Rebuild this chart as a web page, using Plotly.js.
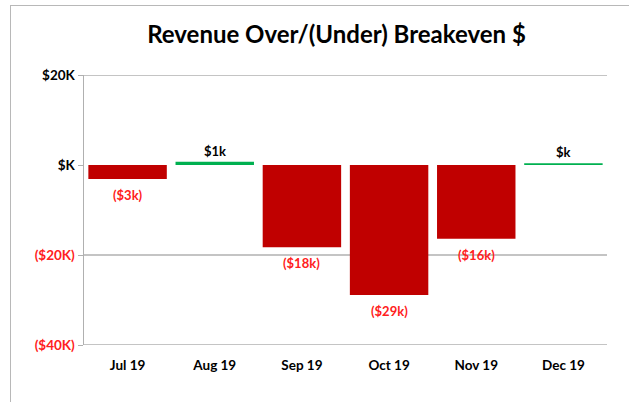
<!DOCTYPE html>
<html>
<head>
<meta charset="utf-8">
<script src="https://cdn.plot.ly/plotly-3.0.1.min.js"></script>
<style>
  html, body { margin: 0; padding: 0; background: #fff; }
  #wrap { position: relative; width: 629px; height: 402px; overflow: hidden; }
  #frame { position: absolute; left: 10px; top: 5px; width: 700px; height: 500px; border: 1.5px solid #b8b8b8; box-sizing: border-box; }
  #chart { position: absolute; left: 0; top: 0; width: 629px; height: 402px; }
</style>
</head>
<body>
<div id="wrap">
  <div id="frame"></div>
  <div id="chart"></div>
</div>
<script>
const months = ["Jul 19", "Aug 19", "Sep 19", "Oct 19", "Nov 19", "Dec 19"];
const valuesK = [-3.1, 0.7, -18.3, -28.9, -16.4, 0.4];
const yTickVals = [20, 0, -20, -40];
const yTickText = ["$20K", "$K", "<span style='color:#ff2020'>($20K)</span>", "<span style='color:#ff2020'>($40K)</span>"];

const RED = "#C00000", GREEN = "#00B050";
function fmt(v) {
  const n = Math.round(Math.abs(v));
  const s = "$" + (n === 0 ? "" : n) + "k";
  return v < 0 ? "(" + s + ")" : s;
}
const FONT = "Lato, 'Open Sans', sans-serif";

const trace = {
  type: "bar",
  x: months,
  y: valuesK,
  marker: { color: valuesK.map(v => v < 0 ? RED : GREEN) },
  hoverinfo: "none"
};

const labels = months.map((m, i) => {
  const v = valuesK[i];
  return {
    x: m, y: v, xref: "x", yref: "y",
    text: "<b>" + fmt(v) + "</b>",
    showarrow: false,
    yanchor: v < 0 ? "top" : "bottom",
    yshift: v < 0 ? -6 : 1,
    font: { family: FONT, size: 13, weight: 700, color: v < 0 ? "#ff2020" : "#000" }
  };
});

// gridlines at every y tick (Plotly hides the ones on the plot edges)
const grid = yTickVals.filter(v => v !== 0).map(v => ({
  type: "line", xref: "paper", yref: "y", x0: 0, x1: 1, y0: v, y1: v,
  line: { color: "#b0b0b0", width: 1.5 }, layer: "below"
}));

const layout = {
  width: 629, height: 402,
  paper_bgcolor: "rgba(0,0,0,0)",
  plot_bgcolor: "rgba(0,0,0,0)",
  margin: { l: 84, r: 22, t: 75, b: 57 },
  bargap: 0.1,
  showlegend: false,
  title: { text: "<b>Revenue Over/(Under) Breakeven $</b>", x: 0.535, xanchor: "center", y: 0.915, yanchor: "middle",
           font: { family: FONT, size: 24, color: "#000" } },
  annotations: labels,
  shapes: grid,
  xaxis: {
    type: "category",
    showline: false, showgrid: false, zeroline: false, ticks: "",
    tickfont: { family: FONT, size: 13.5, weight: 700, color: "#000" },
    ticklabelstandoff: 10
  },
  xaxis2: {
    type: "category", overlaying: "x", anchor: "free", position: 2/3,
    categoryarray: months, categoryorder: "array", range: [-0.5, 5.5],
    showline: true, linecolor: "#b0b0b0", linewidth: 1.5,
    ticks: "outside", tickson: "boundaries", ticklen: 4, tickcolor: "#b0b0b0", tickwidth: 1,
    showticklabels: false, showgrid: false
  },
  yaxis: {
    range: [-40, 20], tickvals: yTickVals, ticktext: yTickText,
    showgrid: false,
    showline: true, linecolor: "#b0b0b0", linewidth: 1.5,
    zeroline: false,
    ticks: "outside", ticklen: 5, tickcolor: "#b0b0b0",
    tickfont: { family: FONT, size: 13.5, weight: 700, color: "#000" }
  },
  font: { family: FONT }
};

Plotly.newPlot("chart", [trace], layout, { displayModeBar: false, staticPlot: true });
</script>
</body>
</html>
